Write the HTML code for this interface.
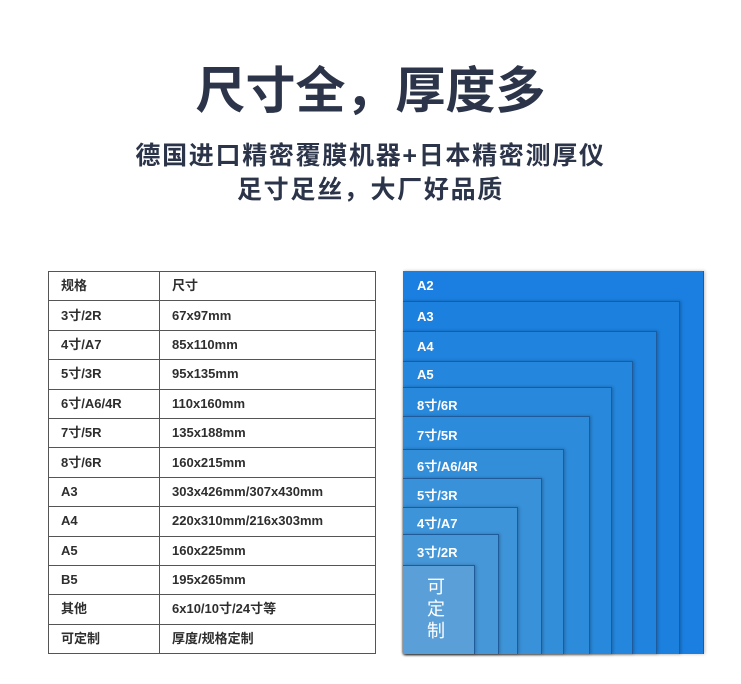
<!DOCTYPE html>
<html><head><meta charset="utf-8"><style>
body{margin:0;width:741px;height:684px;background:#fff;position:relative;overflow:hidden;font-family:"Liberation Sans","Noto Sans CJK SC",sans-serif;}
.t{position:absolute;left:0;width:741px;text-align:center;color:#2b3449;font-weight:bold;white-space:nowrap}
table{position:absolute;left:48px;top:271px;border-collapse:collapse;font-size:13px;color:#2e2e2e;font-weight:600}
td{border:1px solid #555;height:28.4px;padding:0 0 0 12px;line-height:28px}
td:first-child{width:98px}td:last-child{width:203px}
.b{position:absolute;left:403px;bottom:30px;border:1px solid #1f5a9a;border-left:none;border-bottom:none;box-shadow:1px 0 3px rgba(0,0,0,.25);color:#fff;font-size:13px;font-weight:bold}
.b span{position:absolute;left:14px;}
</style></head><body>
<div class="t" style="top:60px;font-size:50px;line-height:62px;left:0">尺寸全，厚度多</div>
<div class="t" style="top:140px;font-size:25px;line-height:32px;letter-spacing:1.7px">德国进口精密覆膜机器+日本精密测厚仪</div>
<div class="t" style="top:174px;font-size:25px;line-height:32px;letter-spacing:1.7px">足寸足丝，大厂好品质</div>
<table>
<tr><td>规格</td><td>尺寸</td></tr>
<tr><td>3寸/2R</td><td>67x97mm</td></tr>
<tr><td>4寸/A7</td><td>85x110mm</td></tr>
<tr><td>5寸/3R</td><td>95x135mm</td></tr>
<tr><td>6寸/A6/4R</td><td>110x160mm</td></tr>
<tr><td>7寸/5R</td><td>135x188mm</td></tr>
<tr><td>8寸/6R</td><td>160x215mm</td></tr>
<tr><td>A3</td><td>303x426mm/307x430mm</td></tr>
<tr><td>A4</td><td>220x310mm/216x303mm</td></tr>
<tr><td>A5</td><td>160x225mm</td></tr>
<tr><td>B5</td><td>195x265mm</td></tr>
<tr><td>其他</td><td>6x10/10寸/24寸等</td></tr>
<tr><td>可定制</td><td>厚度/规格定制</td></tr>
</table>
<div class="b" style="width:300px;top:271px;background:#1a7fe0;border-top:none"><span style="top:7px">A2</span></div>
<div class="b" style="width:276px;top:301px;background:#1c80df"><span style="top:7px">A3</span></div>
<div class="b" style="width:253px;top:331px;background:#2083de"><span style="top:7px">A4</span></div>
<div class="b" style="width:229px;top:361px;background:#2486dc"><span style="top:5px">A5</span></div>
<div class="b" style="width:208px;top:387px;background:#2888db"><span style="top:7px">8寸/6R</span></div>
<div class="b" style="width:186px;top:416px;background:#2d8bdb"><span style="top:8px">7寸/5R</span></div>
<div class="b" style="width:160px;top:449px;background:#338ed9"><span style="top:6px">6寸/A6/4R</span></div>
<div class="b" style="width:138px;top:478px;background:#3891d9"><span style="top:6px">5寸/3R</span></div>
<div class="b" style="width:114px;top:507px;background:#3e94d8"><span style="top:5px">4寸/A7</span></div>
<div class="b" style="width:95px;top:534px;background:#4597d8"><span style="top:7px">3寸/2R</span></div>
<div class="b" style="width:71px;top:565px;background:#5a9fd8"><span style="left:24px;top:10px;font-size:18px;line-height:22px;width:20px;font-weight:normal">可<br>定<br>制</span></div>
</body></html>
